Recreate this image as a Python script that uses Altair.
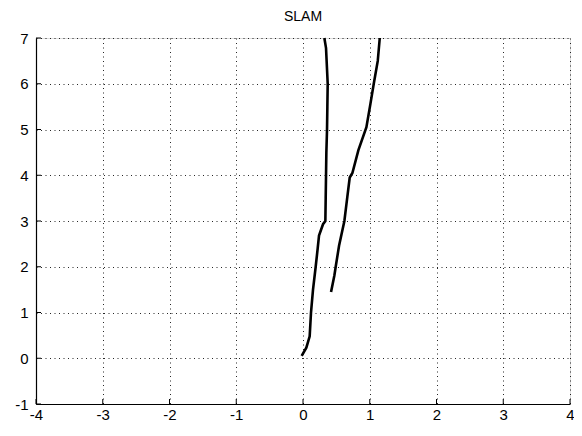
import altair as alt
import pandas as pd

# Left trajectory (x, y)
left_x = [-0.02, 0.05, 0.10, 0.12, 0.15, 0.19, 0.22, 0.24, 0.30, 0.335, 0.34, 0.345, 0.35, 0.36, 0.365, 0.37, 0.345, 0.32]
left_y = [0.05, 0.23, 0.48, 1.00, 1.50, 2.00, 2.40, 2.68, 2.93, 3.00, 3.50, 4.00, 4.50, 5.00, 5.50, 6.00, 6.78, 7.00]

# Right trajectory (x, y)
right_x = [0.42, 0.47, 0.49, 0.54, 0.62, 0.665, 0.70, 0.74, 0.83, 0.95, 1.01, 1.06, 1.12, 1.15]
right_y = [1.45, 1.81, 2.00, 2.46, 3.00, 3.54, 3.95, 4.05, 4.55, 5.05, 5.56, 6.00, 6.50, 7.00]

x_ticks = [-4, -3, -2, -1, 0, 1, 2, 3, 4]
y_ticks = [-1, 0, 1, 2, 3, 4, 5, 6, 7]

rows = []
for i, (a, b) in enumerate(zip(left_x, left_y)):
    rows.append({"series": "left", "i": i, "x": a, "y": b})
for i, (a, b) in enumerate(zip(right_x, right_y)):
    rows.append({"series": "right", "i": i, "x": a, "y": b})
df = pd.DataFrame(rows)

W, H = 534, 366
FONT = "Liberation Sans"

xs = alt.Scale(domain=[-4, 4], nice=False, zero=False)
ys = alt.Scale(domain=[-1, 7], nice=False, zero=False)

xaxis = alt.Axis(values=x_ticks, labelExpr="datum.value + ''", grid=True, gridDash=[1, 3.5],
                 gridColor="#000", gridOpacity=0.85, ticks=False, domainColor="#000", domainWidth=1.2,
                 labelFont=FONT, labelFontSize=15, labelColor="#000", labelPadding=3,
                 labelFlush=False, title=None)
yaxis = alt.Axis(values=y_ticks, labelExpr="datum.value + ''", grid=True, gridDash=[1, 3.5],
                 gridColor="#000", gridOpacity=0.85, ticks=False, domainColor="#000", domainWidth=1.2,
                 labelFont=FONT, labelFontSize=15, labelColor="#000", labelPadding=8,
                 labelFlush=False, title=None)

lines = alt.Chart(df).mark_line(color="#000", strokeWidth=2.6).encode(
    x=alt.X("x:Q", scale=xs, axis=xaxis),
    y=alt.Y("y:Q", scale=ys, axis=yaxis),
    detail="series:N",
    order="i:Q",
)

xt = alt.Chart(pd.DataFrame({"t": x_ticks})).mark_rule(color="#000", strokeWidth=1).encode(
    x=alt.X("t:Q", scale=xs),
    y=alt.value(H),
    y2=alt.value(H - 5),
)
yt = alt.Chart(pd.DataFrame({"t": y_ticks})).mark_rule(color="#000", strokeWidth=1).encode(
    y=alt.Y("t:Q", scale=ys),
    x=alt.value(0),
    x2=alt.value(5),
)

chart = alt.layer(lines, xt, yt).properties(
    width=W, height=H,
    title=alt.TitleParams("SLAM", font=FONT, fontSize=14, fontWeight="normal", color="#000", offset=7),
    autosize=alt.AutoSizeParams(type="none"),
    padding={"left": 28, "top": 30, "right": 4, "bottom": 22},
).configure_view(stroke=None).configure(background="white")

chart.save("out.html", embed_options={"renderer": "svg", "actions": False})
